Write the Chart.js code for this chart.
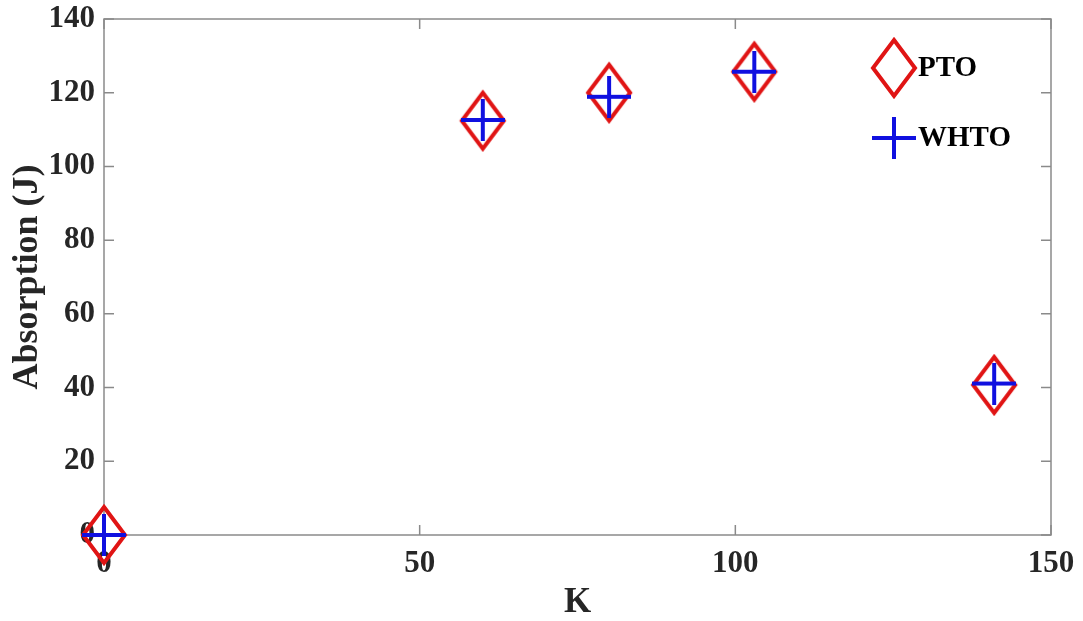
<!DOCTYPE html>
<html>
<head>
<meta charset="utf-8">
<script src="https://cdn.jsdelivr.net/npm/chart.js@4.4.0/dist/chart.umd.min.js"></script>
<style>
html, body { margin: 0; padding: 0; background: #fff; }
#wrap { width: 1083px; height: 621px; }
</style>
</head>
<body>
<div id="wrap"><canvas id="myChart"></canvas></div>
<script>
// data
const kValues = [0, 60, 80, 103, 141];
const ptoValues = [0, 112.4, 120, 125.7, 40.7];
const whtoValues = [0, 112.6, 118.9, 125.7, 41.1];
const seriesNames = ['PTO', 'WHTO'];
const xTicks = [0, 50, 100, 150];
const yTicks = [0, 20, 40, 60, 80, 100, 120, 140];

const serif = "'Liberation Serif', 'Times New Roman', serif";
const red = '#e01414';
const blue = '#1010e0';
const axisGray = '#8a8a8a';

// marker images
function diamondImg(w, h, color, lw) {
    let c = document.createElement('canvas');
    c.width = w; c.height = h;
    let g = c.getContext('2d');
    g.strokeStyle = color;
    g.lineWidth = lw;
    g.lineJoin = 'miter';
    g.beginPath();
    g.moveTo(w / 2, lw);
    g.lineTo(w - lw, h / 2);
    g.lineTo(w / 2, h - lw);
    g.lineTo(lw, h / 2);
    g.closePath();
    g.stroke();
    return c;
}
function plusImg(w, h, color, lw) {
    let c = document.createElement('canvas');
    c.width = w; c.height = h;
    let g = c.getContext('2d');
    g.strokeStyle = color;
    g.lineWidth = lw;
    g.beginPath();
    g.moveTo(0, h / 2); g.lineTo(w, h / 2);
    g.moveTo(w / 2, 0); g.lineTo(w / 2, h);
    g.stroke();
    return c;
}
let diamond = diamondImg(50, 64, red, 4);
let plus = plusImg(44, 42, blue, 4);

function toPoints(xs, ys) {
    return xs.map((x, i) => ({ x: x, y: ys[i] }));
}

// box round the plot with inward ticks, like matlab
const frame = {
    id: 'frame',
    beforeDatasetsDraw(chart) {
        let ctx = chart.ctx;
        let a = chart.chartArea;
        let xs = chart.scales.x, ys = chart.scales.y;
        ctx.save();
        ctx.strokeStyle = axisGray;
        ctx.lineWidth = 1.5;
        ctx.strokeRect(a.left, a.top, a.right - a.left, a.bottom - a.top);
        ctx.beginPath();
        xTicks.forEach(v => {
            let p = xs.getPixelForValue(v);
            ctx.moveTo(p, a.bottom); ctx.lineTo(p, a.bottom - 10);
            ctx.moveTo(p, a.top); ctx.lineTo(p, a.top + 10);
        });
        yTicks.forEach(v => {
            let p = ys.getPixelForValue(v);
            ctx.moveTo(a.left, p); ctx.lineTo(a.left + 10, p);
            ctx.moveTo(a.right, p); ctx.lineTo(a.right - 10, p);
        });
        ctx.stroke();
        ctx.restore();
    }
};

const legendBox = {
    id: 'legendBox',
    afterDraw(chart) {
        let ctx = chart.ctx;
        let a = chart.chartArea;
        let imgs = [diamond, plus];
        let rows = [a.top + 49, a.top + 119];
        ctx.save();
        ctx.font = 'bold 29px ' + serif;
        ctx.fillStyle = '#000';
        ctx.textBaseline = 'middle';
        ctx.textAlign = 'left';
        seriesNames.forEach((name, i) => {
            let img = imgs[i];
            let cx = a.right - 157;
            ctx.drawImage(img, cx - img.width / 2, rows[i] - img.height / 2);
            ctx.fillText(name, a.right - 133, rows[i] + 1);
        });
        ctx.restore();
    }
};

let myChart = document.getElementById('myChart').getContext('2d');

let chart = new Chart(myChart, {
    type: 'scatter',
    data: {
        datasets: [{
            label: seriesNames[0],
            data: toPoints(kValues, ptoValues),
            pointStyle: diamond,
            order: 2,
            clip: false
        }, {
            label: seriesNames[1],
            data: toPoints(kValues, whtoValues),
            pointStyle: plus,
            order: 1,
            clip: false
        }]
    },
    options: {
        responsive: true,
        maintainAspectRatio: false,
        animation: false,
        devicePixelRatio: 1,
        layout: { padding: { left: 0, right: 32, top: 19, bottom: 0 } },
        plugins: {
            legend: { display: false },
            tooltip: { enabled: false }
        },
        scales: {
            x: {
                type: 'linear',
                min: 0,
                max: 150,
                afterFit: s => { s.height = 86; s.paddingLeft = 0; s.paddingRight = 0; },
                afterBuildTicks: s => { s.ticks = xTicks.map(v => ({ value: v })); },
                grid: { display: false, drawTicks: false },
                border: { display: false },
                ticks: {
                    padding: 10,
                    color: '#262626',
                    font: { family: serif, size: 31, weight: 'bold' }
                },
                title: {
                    display: true,
                    text: 'K',
                    color: '#262626',
                    padding: { top: 0, bottom: 1 },
                    font: { family: serif, size: 35, weight: 'bold', lineHeight: 1 }
                }
            },
            y: {
                type: 'linear',
                min: 0,
                max: 140,
                afterFit: s => { s.width = 104; s.paddingTop = 0; s.paddingBottom = 0; },
                afterBuildTicks: s => { s.ticks = yTicks.map(v => ({ value: v })); },
                grid: { display: false, drawTicks: false },
                border: { display: false },
                ticks: {
                    padding: 9,
                    color: '#262626',
                    font: { family: serif, size: 31, weight: 'bold' }
                },
                title: {
                    display: true,
                    text: 'Absorption (J)',
                    color: '#262626',
                    padding: { top: 10, bottom: 0 },
                    font: { family: serif, size: 36, weight: 'bold', lineHeight: 1 }
                }
            }
        }
    },
    plugins: [frame, legendBox]
});
</script>
</body>
</html>
